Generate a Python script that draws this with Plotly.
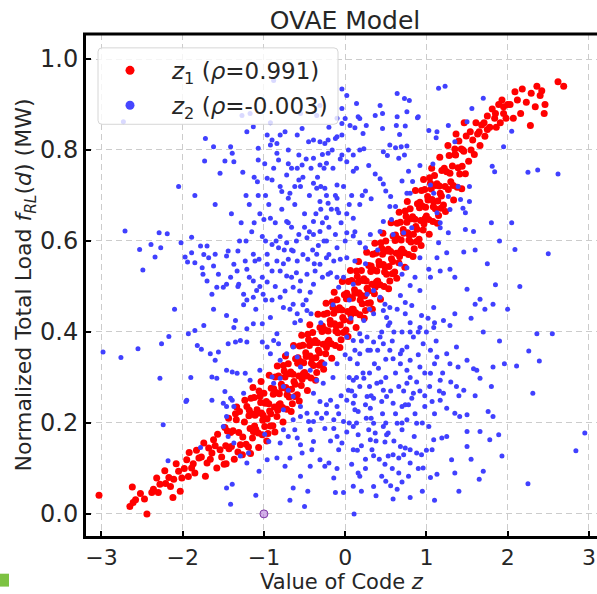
import plotly.graph_objects as go

# ---------------- data ----------------
# z1 : code value vs. normalized total load (red)
z1_pts = [
    (-3.03, 0.041), (-2.65, 0.016), (-2.61, 0.025), (-2.58, 0.031), (-2.47, 0.033), (-2.44, 0.0),
    (-2.62, 0.059), (-2.52, 0.045), (-2.38, 0.047), (-2.36, 0.054), (-2.30, 0.047), (-2.32, 0.079),
    (-2.28, 0.065), (-2.22, 0.095), (-2.21, 0.067), (-2.17, 0.08), (-2.15, 0.06), (-2.12, 0.036),
    (-2.11, 0.076), (-2.08, 0.11), (-2.05, 0.094), (-2.03, 0.050), (-2.01, 0.079), (-1.98, 0.10),
    (-1.95, 0.119), (-1.93, 0.082), (-1.92, 0.135), (-1.89, 0.101), (-1.87, 0.11), (-1.85, 0.090),
    (-1.83, 0.14), (-1.80, 0.123), (-1.77, 0.125), (-1.74, 0.156), (-1.72, 0.083), (-1.70, 0.112),
    (-1.68, 0.145), (-1.66, 0.12), (-1.64, 0.134), (-1.62, 0.163), (-1.60, 0.15), (-1.58, 0.101),
    (-1.57, 0.175), (-1.54, 0.141), (-1.52, 0.125),
    (-1.49, 0.109), (-1.43, 0.143), (-1.47, 0.150), (-1.41, 0.179), (-1.45, 0.182), (-1.48, 0.190),
    (-1.38, 0.183), (-1.32, 0.136), (-1.35, 0.220), (-1.40, 0.148), (-1.34, 0.207), (-1.31, 0.179),
    (-1.26, 0.169), (-1.30, 0.225), (-1.22, 0.153), (-1.24, 0.202), (-1.29, 0.152), (-1.21, 0.236),
    (-1.19, 0.147), (-1.13, 0.181), (-1.17, 0.188), (-1.11, 0.217), (-1.15, 0.220), (-1.18, 0.228), (-1.12, 0.256), (-1.16, 0.254), (-1.14, 0.167),
    (-1.08, 0.221), (-1.02, 0.174), (-1.05, 0.258), (-1.10, 0.186), (-1.04, 0.245), (-1.01, 0.217), (-1.07, 0.178), (-1.06, 0.270), (-1.03, 0.222),
    (-0.96, 0.209), (-1.00, 0.265), (-0.92, 0.193), (-0.94, 0.242), (-0.99, 0.192), (-0.91, 0.276), (-0.97, 0.247), (-0.93, 0.226), (-0.95, 0.177),
    (-0.89, 0.194), (-0.83, 0.228), (-0.87, 0.235), (-0.81, 0.264), (-0.85, 0.267), (-0.88, 0.275), (-0.82, 0.303), (-0.86, 0.301), (-0.84, 0.214),
    (-0.78, 0.277), (-0.72, 0.230), (-0.75, 0.314), (-0.80, 0.242), (-0.74, 0.301), (-0.71, 0.273), (-0.77, 0.234), (-0.76, 0.326), (-0.73, 0.278),
    (-0.66, 0.274), (-0.70, 0.330), (-0.62, 0.258), (-0.64, 0.307), (-0.69, 0.257), (-0.61, 0.341), (-0.67, 0.312), (-0.63, 0.291), (-0.65, 0.242),
    (-0.59, 0.262), (-0.53, 0.296), (-0.57, 0.303), (-0.51, 0.332), (-0.55, 0.335), (-0.58, 0.343), (-0.52, 0.371), (-0.56, 0.369), (-0.54, 0.282),
    (-0.48, 0.346), (-0.42, 0.299), (-0.45, 0.383), (-0.50, 0.311), (-0.44, 0.370), (-0.41, 0.342), (-0.47, 0.303), (-0.46, 0.395), (-0.43, 0.347),
    (-0.36, 0.343), (-0.40, 0.399), (-0.32, 0.327), (-0.34, 0.376), (-0.39, 0.326), (-0.31, 0.410), (-0.37, 0.381), (-0.33, 0.360), (-0.35, 0.311),
    (-0.29, 0.332), (-0.23, 0.366), (-0.27, 0.373), (-0.21, 0.402), (-0.25, 0.405), (-0.28, 0.413), (-0.22, 0.441), (-0.26, 0.439), (-0.24, 0.352),
    (-0.18, 0.417), (-0.12, 0.370), (-0.15, 0.454), (-0.20, 0.382), (-0.14, 0.441), (-0.11, 0.413), (-0.17, 0.374), (-0.16, 0.466), (-0.13, 0.418),
    (-0.06, 0.415), (-0.10, 0.471), (-0.02, 0.399), (-0.04, 0.448), (-0.09, 0.398), (-0.01, 0.482), (-0.07, 0.453), (-0.03, 0.432), (-0.05, 0.383),
    (0.01, 0.404), (0.07, 0.438), (0.03, 0.445), (0.09, 0.474), (0.05, 0.477), (0.02, 0.485), (0.08, 0.513), (0.04, 0.511), (0.06, 0.424),
    (0.12, 0.485), (0.18, 0.438), (0.15, 0.522), (0.10, 0.450), (0.16, 0.509), (0.19, 0.481), (0.13, 0.442), (0.14, 0.534), (0.17, 0.486),
    (0.24, 0.479), (0.20, 0.535), (0.28, 0.463), (0.26, 0.512), (0.21, 0.462), (0.29, 0.546), (0.23, 0.517), (0.27, 0.496), (0.25, 0.447),
    (0.31, 0.464), (0.37, 0.498), (0.33, 0.505), (0.39, 0.534), (0.35, 0.537), (0.32, 0.545), (0.38, 0.573), (0.34, 0.571), (0.36, 0.484),
    (0.42, 0.547), (0.48, 0.500), (0.45, 0.584), (0.40, 0.512), (0.46, 0.571), (0.49, 0.543), (0.43, 0.504), (0.44, 0.596), (0.47, 0.548),
    (0.54, 0.544), (0.50, 0.600), (0.58, 0.528), (0.56, 0.577), (0.51, 0.527), (0.59, 0.611), (0.53, 0.582), (0.57, 0.561), (0.55, 0.512),
    (0.61, 0.532), (0.67, 0.566), (0.63, 0.573), (0.69, 0.602), (0.65, 0.605), (0.62, 0.613), (0.68, 0.641), (0.64, 0.639), (0.66, 0.552),
    (0.72, 0.617), (0.78, 0.570), (0.75, 0.654), (0.70, 0.582), (0.76, 0.641), (0.79, 0.613), (0.73, 0.574), (0.74, 0.666), (0.77, 0.618),
    (0.84, 0.615), (0.80, 0.671), (0.88, 0.599), (0.86, 0.648), (0.81, 0.598), (0.89, 0.682), (0.83, 0.653), (0.87, 0.632), (0.85, 0.583),
    (0.91, 0.604), (0.97, 0.638), (0.93, 0.645), (0.99, 0.674), (0.95, 0.677), (0.92, 0.685), (0.98, 0.713), (0.94, 0.711), (0.96, 0.624),
    (1.02, 0.690), (1.08, 0.643), (1.05, 0.727), (1.00, 0.655), (1.06, 0.714), (1.09, 0.686), (1.03, 0.647), (1.04, 0.739), (1.07, 0.691),
    (1.14, 0.688), (1.10, 0.744), (1.18, 0.672), (1.16, 0.721), (1.11, 0.671), (1.19, 0.755), (1.13, 0.726), (1.17, 0.705), (1.15, 0.656),
    (1.21, 0.679), (1.27, 0.713), (1.23, 0.720), (1.29, 0.749), (1.25, 0.752), (1.22, 0.760), (1.28, 0.788),
    (1.32, 0.765), (1.38, 0.718), (1.35, 0.802), (1.30, 0.730), (1.36, 0.789), (1.39, 0.761), (1.33, 0.722),
    (1.44, 0.764), (1.40, 0.820), (1.48, 0.748), (1.46, 0.797), (1.41, 0.747), (1.49, 0.831), (1.43, 0.802),
    (1.52, 0.775), (1.57, 0.822), (1.54, 0.84), (1.59, 0.79), (1.61, 0.86), (1.66, 0.81), (1.63, 0.835),
    (1.68, 0.855), (1.72, 0.83), (1.75, 0.875), (1.78, 0.85), (1.71, 0.86), (1.81, 0.89), (1.86, 0.85),
    (1.84, 0.87), (1.89, 0.9), (1.91, 0.86), (1.95, 0.895), (1.98, 0.87), (1.93, 0.91), (2.03, 0.9),
    (2.07, 0.87), (2.09, 0.928), (2.12, 0.91), (2.16, 0.88), (2.18, 0.934), (2.23, 0.905), (2.28, 0.854),
    (2.29, 0.925), (2.34, 0.895), (2.36, 0.94), (2.40, 0.92), (2.42, 0.93), (2.46, 0.90), (2.45, 0.88),
    (2.62, 0.95), (2.69, 0.94), (1.55, 0.80), (1.65, 0.84), (1.75, 0.845), (1.85, 0.88), (1.95, 0.88),
    (2.00, 0.9), (1.45, 0.8), (1.35, 0.79),
    # edge / fill points of the dense band
    (-1.465, 0.11), (-1.435, 0.21), (-1.365, 0.12), (-1.335, 0.235), (-1.265, 0.13), (-1.235, 0.25),
    (-1.165, 0.133), (-1.135, 0.278), (-1.185, 0.216), (-1.115, 0.193),
    (-1.065, 0.146), (-1.035, 0.291), (-1.085, 0.229), (-1.015, 0.206),
    (-0.965, 0.16), (-0.935, 0.305), (-0.985, 0.243), (-0.915, 0.22),
    (-0.865, 0.18), (-0.835, 0.325), (-0.885, 0.263), (-0.815, 0.24),
    (-0.765, 0.202), (-0.735, 0.347), (-0.785, 0.285), (-0.715, 0.262),
    (-0.665, 0.225), (-0.635, 0.37), (-0.685, 0.308), (-0.615, 0.285),
    (-0.565, 0.248), (-0.535, 0.393), (-0.585, 0.331), (-0.515, 0.308),
    (-0.465, 0.271), (-0.435, 0.416), (-0.485, 0.354), (-0.415, 0.331),
    (-0.365, 0.294), (-0.335, 0.439), (-0.385, 0.377), (-0.315, 0.354),
    (-0.265, 0.318), (-0.235, 0.463), (-0.285, 0.401), (-0.215, 0.378),
    (-0.165, 0.342), (-0.135, 0.487), (-0.185, 0.425), (-0.115, 0.402),
    (-0.065, 0.366), (-0.035, 0.511), (-0.085, 0.449), (-0.015, 0.426),
    (0.035, 0.39), (0.065, 0.535), (0.015, 0.473), (0.085, 0.45),
    (0.135, 0.41), (0.165, 0.555), (0.115, 0.493), (0.185, 0.47),
    (0.235, 0.43), (0.265, 0.575), (0.215, 0.513), (0.285, 0.49),
    (0.335, 0.45), (0.365, 0.595), (0.315, 0.533), (0.385, 0.51),
    (0.435, 0.472), (0.465, 0.617), (0.415, 0.555), (0.485, 0.532),
    (0.535, 0.495), (0.565, 0.64), (0.515, 0.578), (0.585, 0.555),
    (0.635, 0.518), (0.665, 0.663), (0.615, 0.601), (0.685, 0.578),
    (0.735, 0.542), (0.765, 0.687), (0.715, 0.625), (0.785, 0.602),
    (0.835, 0.566), (0.865, 0.711), (0.815, 0.649), (0.885, 0.626),
    (0.935, 0.59), (0.965, 0.735), (0.915, 0.673), (0.985, 0.65),
    (1.035, 0.615), (1.065, 0.76), (1.015, 0.698), (1.085, 0.675),
    (1.135, 0.639), (1.165, 0.784), (1.115, 0.722), (1.185, 0.699),
    (1.235, 0.665), (1.265, 0.81), (1.335, 0.69), (1.365, 0.835), (1.435, 0.715), (1.465, 0.86),
]

# z2 : code value vs. normalized total load (blue)
z2_pts = [
    (-2.73, 0.862), (-1.72, 0.825), (-1.62, 0.807), (-1.73, 0.776), (-1.41, 0.807), (-1.39, 0.793), (-1.48, 0.776),
    (-1.37, 0.774), (-1.54, 0.749), (-1.26, 0.751), (-1.07, 0.804), (-1.07, 0.778), (-1.21, 0.84), (-1.13, 0.851),
    (-0.96, 0.833), (-0.90, 0.822), (-0.92, 0.811), (-0.80, 0.833), (-0.74, 0.84), (-0.84, 0.814), (-0.82, 0.778),
    (-0.84, 0.793), (-0.96, 0.738), (-0.90, 0.734), (-0.72, 0.745), (-0.78, 0.709), (-0.70, 0.694), (-0.68, 0.705),
    (-1.07, 0.70), (-0.94, 0.68), (-0.59, 0.833), (-0.53, 0.847), (-0.45, 0.818), (-0.39, 0.822), (-0.31, 0.818),
    (-0.25, 0.814), (-0.21, 0.822), (-0.12, 0.825), (-0.10, 0.829), (-0.57, 0.789), (-0.53, 0.767), (-0.59, 0.76),
    (-0.39, 0.782), (-0.31, 0.767), (-0.23, 0.771), (-0.21, 0.793), (-0.57, 0.734), (-0.55, 0.72), (-0.39, 0.727),
    (-0.35, 0.716), (-0.25, 0.716), (-0.23, 0.70), (-0.10, 0.723), (-0.31, 0.687), (-0.21, 0.683), (-0.10, 0.694),
    (-0.08, 0.662), (-0.23, 0.651), (-0.39, 0.643), (-0.72, 0.643), (-1.0, 0.647), (-0.88, 0.953), (-1.27, 0.876),
    (-1.17, 0.88), (-0.31, 0.898), (-0.35, 0.876),
    (-0.04, 0.934), (0.02, 0.92), (0.14, 0.902), (0.16, 0.873), (0.37, 0.876), (0.43, 0.898), (0.64, 0.924),
    (0.73, 0.913), (0.79, 0.909), (0.76, 0.884), (0.64, 0.873), (0.90, 0.873), (1.15, 0.936), (1.23, 0.94),
    (1.70, 0.914), (1.56, 0.891), (-0.04, 0.891), (0.0, 0.869), (-0.04, 0.858), (0.06, 0.854), (0.12, 0.849),
    (-0.04, 0.833), (0.18, 0.869), (0.26, 0.854), (0.22, 0.836), (0.46, 0.88), (0.46, 0.847), (0.63, 0.854),
    (0.74, 0.853), (0.67, 0.834), (0.89, 0.871), (0.55, 0.811), (0.62, 0.805), (0.69, 0.807), (0.76, 0.809),
    (0.47, 0.796), (0.52, 0.788), (0.66, 0.782), (0.73, 0.789), (-0.04, 0.789), (0.02, 0.774), (0.10, 0.789),
    (0.18, 0.80), (0.23, 0.803), (0.10, 0.753), (0.29, 0.766), (0.37, 0.747), (0.43, 0.737), (0.47, 0.725),
    (0.25, 0.71), (0.21, 0.70), (0.32, 0.693), (0.50, 0.71), (0.56, 0.698), (0.62, 0.676), (0.55, 0.676),
    (0.78, 0.753), (0.83, 0.731), (0.70, 0.732), (0.76, 0.705), (0.80, 0.705), (0.92, 0.766), (1.08, 0.769),
    (1.03, 0.843), (1.13, 0.84), (1.27, 0.854), (1.12, 0.827), (1.35, 0.818), (1.50, 0.862), (1.95, 0.807),
    (2.05, 0.841), (1.81, 0.764), (1.84, 0.752), (2.25, 0.751), (2.37, 0.756), (2.62, 0.747), (1.53, 0.72),
    (1.39, 0.72), (1.29, 0.669), (1.27, 0.698), (1.45, 0.672), (1.48, 0.662), (1.42, 0.691), (1.53, 0.687),
    (1.80, 0.64), (2.05, 0.64), (1.05, 0.723), (1.09, 0.705), (0.47, 0.643), (0.57, 0.647), (1.13, 0.662),
    (1.17, 0.64),
    (-2.71, 0.622), (-2.29, 0.618), (-2.19, 0.616), (-2.53, 0.581), (-2.39, 0.592), (-2.27, 0.585), (-2.34, 0.565),
    (-2.49, 0.536), (-2.02, 0.596), (-1.97, 0.565), (-1.94, 0.554), (-1.89, 0.608), (-1.85, 0.552), (-1.76, 0.541),
    (-1.89, 0.574), (-1.78, 0.589), (-1.70, 0.589), (-1.74, 0.57), (-1.68, 0.563), (-1.75, 0.527), (-1.60, 0.571),
    (-1.62, 0.545), (-1.56, 0.527), (-1.46, 0.567), (-1.44, 0.578), (-1.32, 0.578), (-1.37, 0.549), (-1.23, 0.556),
    (-1.33, 0.534), (-1.21, 0.538), (-1.11, 0.556), (-1.13, 0.571), (-1.46, 0.505), (-1.50, 0.498), (-1.41, 0.52),
    (-1.31, 0.505), (-1.70, 0.512), (-1.58, 0.498), (-1.64, 0.483), (-1.25, 0.483), (-1.21, 0.47), (-1.13, 0.476),
    (-1.09, 0.491), (-1.01, 0.483), (-1.13, 0.512), (-1.02, 0.52), (-0.90, 0.534), (-0.96, 0.549), (-0.84, 0.556),
    (-0.80, 0.534), (-0.96, 0.571), (-0.82, 0.585), (-0.90, 0.592), (-0.72, 0.596), (-0.64, 0.578), (-0.70, 0.56),
    (-0.59, 0.556), (-0.57, 0.614), (-0.47, 0.607), (-0.39, 0.614), (-0.31, 0.621), (-0.23, 0.60), (-0.12, 0.614),
    (-0.10, 0.585), (-0.72, 0.523), (-0.64, 0.498), (-0.55, 0.512), (-0.47, 0.527), (-0.39, 0.505), (-0.43, 0.487),
    (-0.35, 0.571), (-0.31, 0.549), (-0.23, 0.563), (-0.14, 0.556), (-0.37, 0.534), (-0.21, 0.527), (-0.10, 0.52),
    (-0.08, 0.498), (-0.80, 0.476), (-0.76, 0.454), (-0.64, 0.461), (-0.59, 0.44), (-0.47, 0.447), (-0.55, 0.425),
    (-0.92, 0.432), (-1.02, 0.418), (-1.13, 0.418), (-1.62, 0.45), (-1.46, 0.436), (-1.35, 0.425), (-1.37, 0.41),
    (-1.21, 0.407), (-1.74, 0.414), (-1.93, 0.396), (-1.85, 0.403), (-1.82, 0.37), (-1.77, 0.362), (-2.17, 0.39),
    (-2.26, 0.374), (-2.55, 0.363), (-2.76, 0.344), (-2.98, 0.356), (-2.28, 0.298), (-1.66, 0.352), (-1.56, 0.356),
    (-1.60, 0.338), (-1.64, 0.301), (-1.58, 0.298), (-1.44, 0.374), (-1.35, 0.378), (-1.29, 0.381), (-1.21, 0.378),
    (-1.46, 0.316), (-1.39, 0.312), (-1.33, 0.309), (-1.23, 0.309), (-1.17, 0.294), (-1.05, 0.316), (-1.48, 0.269),
    (-1.25, 0.265), (-1.39, 0.25), (-1.95, 0.25), (-1.46, 0.236), (-1.02, 0.378), (-0.96, 0.367), (-0.92, 0.352),
    (-0.88, 0.381), (-0.84, 0.396), (-0.82, 0.374), (-0.72, 0.352), (-0.80, 0.338), (-0.64, 0.367), (-0.59, 0.345),
    (-0.55, 0.323), (-0.90, 0.301), (-0.88, 0.287), (-0.80, 0.298), (-0.76, 0.28), (-0.70, 0.272), (-0.64, 0.258),
    (-0.43, 0.316), (-0.35, 0.294), (-0.39, 0.265), (-0.27, 0.287), (-0.18, 0.25), (-0.10, 0.236), (-0.23, 0.221),
    (-0.55, 0.236), (-0.47, 0.221), (-0.39, 0.203), (-0.29, 0.21), (-0.14, 0.207),
    (-1.96, 0.247), (-1.64, 0.25), (-1.50, 0.243), (-1.41, 0.254), (-1.37, 0.236), (-2.24, 0.196), (-2.18, 0.117),
    (-1.78, 0.146), (-1.46, 0.214), (-1.50, 0.192), (-1.44, 0.17), (-1.37, 0.156), (-1.29, 0.127), (-1.19, 0.134),
    (-1.46, 0.057), (-1.39, 0.065), (-1.41, 0.021), (-1.21, 0.112), (-1.10, 0.041), (-1.06, 0.094), (-0.96, 0.119),
    (-0.94, 0.159), (-0.99, 0.175), (-0.84, 0.123), (-0.76, 0.185), (-0.74, 0.105), (-0.68, 0.123), (-0.62, 0.185),
    (-0.64, 0.057), (-0.68, 0.03), (-0.55, 0.083), (-0.50, 0.016), (-0.46, 0.05), (-0.43, 0.105), (-0.80, 0.156),
    (-0.70, 0.17), (-0.59, 0.167), (-0.55, 0.152), (-0.53, 0.134), (-0.41, 0.141), (-0.39, 0.159), (-0.31, 0.119),
    (-0.25, 0.105), (-0.20, 0.112), (-0.14, 0.079), (-0.76, 0.229), (-0.64, 0.207), (-0.55, 0.214), (-0.45, 0.203),
    (-0.43, 0.185), (-0.35, 0.221), (-0.31, 0.247), (-0.23, 0.24), (-0.14, 0.188), (-0.10, 0.17), (-0.25, 0.188),
    (-0.08, 0.141), (-0.12, 0.047),
    (0.02, 0.25), (0.10, 0.243), (0.16, 0.225), (0.25, 0.24), (0.35, 0.254), (0.45, 0.247), (0.51, 0.258),
    (0.59, 0.243), (0.70, 0.236), (0.78, 0.24), (0.82, 0.254), (-0.02, 0.203), (0.10, 0.192), (0.16, 0.174),
    (0.29, 0.185), (0.35, 0.199), (0.37, 0.178), (0.47, 0.192), (0.53, 0.178), (0.64, 0.199), (0.70, 0.185),
    (0.76, 0.207), (0.88, 0.199), (-0.04, 0.156), (0.08, 0.109), (0.10, 0.141), (0.16, 0.09), (0.18, 0.083),
    (0.10, 0.061), (-0.02, 0.047), (0.31, 0.163), (0.33, 0.141), (0.35, 0.128), (0.51, 0.174), (0.49, 0.158),
    (0.53, 0.127), (0.59, 0.13), (0.66, 0.123), (0.68, 0.148), (0.74, 0.145), (0.80, 0.141), (0.88, 0.134),
    (0.94, 0.13), (0.96, 0.101), (0.80, 0.112), (0.78, 0.083), (0.66, 0.09), (0.45, 0.083), (0.50, 0.072),
    (0.56, 0.062), (0.64, 0.054), (0.59, 0.033), (0.80, 0.036), (0.49, 0.109), (0.11, 0.0), (0.98, 0.236),
    (1.07, 0.247), (1.17, 0.25), (1.25, 0.232), (1.35, 0.221), (1.41, 0.214), (1.50, 0.218), (1.76, 0.225),
    (1.82, 0.214), (1.66, 0.181), (1.50, 0.181), (1.50, 0.148), (1.78, 0.163), (1.89, 0.174), (1.93, 0.127),
    (1.03, 0.192), (1.09, 0.163), (1.07, 0.141), (1.13, 0.087), (1.19, 0.167), (1.31, 0.119), (1.35, 0.09),
    (1.65, 0.076), (1.70, 0.094), (2.25, 0.066), (2.84, 0.139), (2.95, 0.178),
    (0.02, 0.618), (0.10, 0.611), (0.18, 0.596), (0.25, 0.585), (0.31, 0.614), (0.43, 0.621), (0.59, 0.614),
    (0.72, 0.618), (0.82, 0.629), (1.17, 0.629), (1.27, 0.618), (1.48, 0.625), (1.58, 0.621), (0.02, 0.563),
    (0.12, 0.556), (-0.02, 0.52), (0.10, 0.505), (0.68, 0.549), (0.76, 0.541), (0.70, 0.527), (0.86, 0.52),
    (0.92, 0.563), (1.03, 0.538), (1.05, 0.52), (1.15, 0.596), (1.13, 0.563), (1.25, 0.574), (1.17, 0.534),
    (1.29, 0.538), (1.35, 0.52), (1.46, 0.576), (0.80, 0.502), (0.92, 0.491), (0.68, 0.48), (0.74, 0.465),
    (0.82, 0.458), (1.50, 0.494), (1.60, 0.461), (1.66, 0.472), (1.72, 0.45), (1.82, 0.461), (1.85, 0.504),
    (0.27, 0.483), (0.35, 0.491), (0.43, 0.476), (0.49, 0.461), (0.47, 0.447), (0.55, 0.454), (0.35, 0.44),
    (0.23, 0.425), (0.51, 0.432), (0.53, 0.414), (0.74, 0.44), (0.94, 0.436), (1.09, 0.454), (0.92, 0.41),
    (1.09, 0.41), (1.21, 0.425), (1.29, 0.414), (1.35, 0.44), (0.02, 0.389), (0.10, 0.381), (0.18, 0.396),
    (0.27, 0.389), (0.35, 0.378), (0.43, 0.389), (0.31, 0.36), (0.18, 0.352), (0.06, 0.341), (0.47, 0.374),
    (0.55, 0.36), (0.59, 0.341), (0.68, 0.352), (0.76, 0.367), (0.80, 0.338), (0.84, 0.389), (0.96, 0.374),
    (1.05, 0.36), (1.13, 0.345), (1.25, 0.352), (1.37, 0.367), (1.50, 0.338), (1.58, 0.319), (1.29, 0.33),
    (1.39, 0.323), (0.92, 0.323), (0.76, 0.316), (0.10, 0.294), (0.23, 0.298), (0.04, 0.272), (0.18, 0.28),
    (0.27, 0.258), (0.39, 0.287), (0.47, 0.272), (0.76, 0.287), (0.84, 0.265), (0.31, 0.232), (0.12, 0.229),
    (1.05, 0.309), (1.17, 0.294), (1.21, 0.265), (1.37, 0.28), (1.46, 0.272), (1.62, 0.316), (1.66, 0.298),
    (1.82, 0.323), (2.09, 0.581), (2.50, 0.572), (2.36, 0.396), (2.55, 0.396), (2.26, 0.358), (2.39, 0.336),
    (2.11, 0.325), (1.96, 0.33), (2.31, 0.265),
    (-1.15, 0.62), (-1.05, 0.66), (-0.98, 0.60), (-0.86, 0.64), (-0.78, 0.67), (-0.66, 0.63), (-0.62, 0.68),
    (-0.5, 0.66), (-0.44, 0.70), (-0.36, 0.66), (-0.28, 0.64), (-0.17, 0.67), (-0.05, 0.64), (0.05, 0.68),
    (-1.22, 0.70), (-1.12, 0.74), (-0.99, 0.77), (-0.66, 0.76), (-0.48, 0.78), (-0.28, 0.79), (-0.15, 0.76),
    (-0.02, 0.72), (0.08, 0.70), (-0.75, 0.58), (-0.52, 0.57), (-0.33, 0.59), (-0.2, 0.57), (-1.05, 0.5),
    (-0.9, 0.47), (-0.68, 0.45), (-0.48, 0.47), (-0.6, 0.53), (-0.85, 0.6), (-1.3, 0.6), (-1.4, 0.66),
    (-1.6, 0.68), (-1.85, 0.7), (-2.05, 0.72), (-1.25, 0.46), (-0.3, 0.72), (-0.12, 0.7), (0.12, 0.62),
    (0.02, 0.66), (-0.7, 0.8), (-0.92, 0.86), (-0.55, 0.88), (-0.1, 0.87), (-0.2, 0.85),
    (0.05, 0.3), (0.12, 0.26), (0.22, 0.31), (0.3, 0.28), (0.41, 0.32), (0.5, 0.3), (0.62, 0.31),
    (0.72, 0.27), (0.88, 0.29), (0.98, 0.26), (1.1, 0.22), (0.15, 0.14), (0.25, 0.1), (0.42, 0.12),
    (0.6, 0.16), (0.7, 0.2), (0.85, 0.17), (0.95, 0.2), (1.0, 0.14), (0.05, 0.2), (-0.05, 0.26),
    (0.32, 0.21), (0.46, 0.22), (0.66, 0.28), (0.58, 0.38), (0.7, 0.4), (0.8, 0.42), (0.64, 0.45),
    (0.9, 0.4), (1.02, 0.43), (1.12, 0.38), (1.2, 0.31), (0.28, 0.36), (0.36, 0.33), (0.15, 0.33),
    (-0.15, 0.3), (-0.25, 0.33), (0.2, 0.05), (0.38, 0.04), (0.7, 0.07), (0.95, 0.05), (1.1, 0.03),
    (1.4, 0.05), (1.55, 0.12), (1.25, 0.17), (1.4, 0.26), (1.3, 0.29), (1.6, 0.26), (1.8, 0.28),
    (1.9, 0.38), (1.7, 0.4), (1.55, 0.43), (1.75, 0.55), (1.6, 0.58), (1.9, 0.6), (2.0, 0.45),
    (2.15, 0.5), (-2.1, 0.45), (-1.9, 0.3), (0.05, 0.47), (-0.15, 0.46), (0.25, 0.55), (0.3, 0.45),
    (-0.3, 0.42), (0.12, 0.36), (-0.1, 0.33), (0.4, 0.58),
    # denser upper-left cloud
    (-1.28, 0.64), (-1.18, 0.68), (-1.08, 0.73), (-0.98, 0.70), (-0.88, 0.76), (-0.8, 0.72), (-0.7, 0.77),
    (-0.62, 0.72), (-0.52, 0.74), (-0.42, 0.76), (-0.34, 0.74), (-0.26, 0.76), (-0.16, 0.80), (-0.06, 0.78),
    (0.04, 0.80), (0.14, 0.76), (-1.22, 0.6), (-1.12, 0.64), (-1.02, 0.61), (-0.92, 0.65), (-0.8, 0.61),
    (-0.7, 0.64), (-0.6, 0.60), (-0.5, 0.63), (-0.4, 0.58), (-0.3, 0.67), (-0.2, 0.63), (-0.1, 0.67),
    (0.0, 0.6), (0.1, 0.65), (0.18, 0.68), (-1.32, 0.5), (-1.18, 0.52), (-1.06, 0.56), (-0.96, 0.51),
    (-0.86, 0.5), (-0.76, 0.55), (-0.66, 0.52), (-0.56, 0.49), (-0.46, 0.56), (-0.38, 0.55), (-0.28, 0.52),
    (-0.18, 0.53), (-0.06, 0.56), (-0.66, 0.58), (-0.44, 0.62), (-0.26, 0.6), (-1.1, 0.45), (-0.98, 0.47),
    (-0.74, 0.49), (-0.62, 0.42), (-0.52, 0.46), (-0.42, 0.44),
    # denser lower-right cloud
    (-0.18, 0.16), (-0.08, 0.22), (0.02, 0.18), (0.08, 0.27), (0.14, 0.2), (0.2, 0.15), (0.26, 0.21),
    (0.32, 0.26), (0.38, 0.16), (0.44, 0.29), (0.5, 0.2), (0.56, 0.27), (0.62, 0.22), (0.68, 0.33),
    (0.74, 0.24), (0.8, 0.3), (0.86, 0.22), (0.92, 0.27), (0.98, 0.31), (1.04, 0.28), (1.1, 0.33),
    (1.16, 0.27), (0.2, 0.38), (0.3, 0.31), (0.4, 0.36), (0.5, 0.34), (0.6, 0.4), (0.7, 0.36),
    (0.8, 0.4), (0.9, 0.35), (1.0, 0.4), (1.1, 0.42), (0.45, 0.4), (0.55, 0.42), (0.25, 0.12),
    (0.58, 0.1), (0.72, 0.13), (0.9, 0.1), (1.05, 0.08), (0.35, 0.06), (-0.1, 0.1), (0.0, 0.35),
    (0.07, 0.43), (0.14, 0.3),
]

# a single highlighted point
extra_x = [-1.0]
extra_y = [0.0]

z1_label = "<i>z</i><sub>1</sub> (<i>ρ</i>=0.991)"
z2_label = "<i>z</i><sub>2</sub> (<i>ρ</i>=-0.003)"
title_text = "OVAE Model"
x_title = "Value of Code <i>z</i>"
y_title = "Normalized Total Load <i>f</i><sub><i>RL</i></sub>(<i>d</i>) (MW)"
x_tickvals = [-3, -2, -1, 0, 1, 2, 3]
x_ticktext = ["\u22123", "\u22122", "\u22121", "0", "1", "2", "3"]
y_tickvals = [0.0, 0.2, 0.4, 0.6, 0.8, 1.0]
y_ticktext = ["0.0", "0.2", "0.4", "0.6", "0.8", "1.0"]

# ---------------- layout geometry ----------------
W, H = 597, 594
L, R, T, B = 86, 0, 34, 54
PW, PH = W - L - R, H - T - B


def px_x(px):
    return (px - L) / PW


def px_y(py):
    return (H - B - py) / PH


FONT = "DejaVu Sans"
TXT = "#262626"

z1x = [p[0] for p in z1_pts]
z1y = [p[1] for p in z1_pts]
z2x = [p[0] for p in z2_pts]
z2y = [p[1] for p in z2_pts]

fig = go.Figure()
fig.add_trace(go.Scatter(x=z1x, y=z1y, mode="markers", showlegend=False, hoverinfo="skip",
                         marker=dict(color="#ff0000", size=7, line=dict(width=0))))
fig.add_trace(go.Scatter(x=z2x, y=z2y, mode="markers", showlegend=False, hoverinfo="skip",
                         marker=dict(color="#4040ff", size=5, line=dict(width=0))))
fig.add_trace(go.Scatter(x=extra_x, y=extra_y, mode="markers", showlegend=False, hoverinfo="skip",
                         marker=dict(color="rgba(175,110,215,0.55)", size=8,
                                     line=dict(color="rgb(125,55,165)", width=1))))
# legend entries (larger glyphs, as in the reference legend)
fig.add_trace(go.Scatter(x=[None], y=[None], mode="markers", name=z1_label, legendgroup="a",
                         marker=dict(color="#ff0000", size=9)))
fig.add_trace(go.Scatter(x=[None], y=[None], mode="markers", name=z2_label, legendgroup="b",
                         marker=dict(color="#4646ff", size=9)))

# legend frame (rounded, semi-transparent white)
bx0, bx1, by0, by1 = px_x(98), px_x(338), px_y(125), px_y(48)
rx, ry = 4 / PW, 4 / PH
legend_path = (f"M {bx0+rx},{by1} L {bx1-rx},{by1} Q {bx1},{by1} {bx1},{by1-ry} "
               f"L {bx1},{by0+ry} Q {bx1},{by0} {bx1-rx},{by0} L {bx0+rx},{by0} "
               f"Q {bx0},{by0} {bx0},{by0+ry} L {bx0},{by1-ry} Q {bx0},{by1} {bx0+rx},{by1} Z")

shapes = [
    dict(type="path", xref="paper", yref="paper", path=legend_path, layer="above",
         fillcolor="rgba(255,255,255,0.8)", line=dict(color="#d6d6d6", width=1)),
    # top spine
    dict(type="line", xref="paper", yref="paper", x0=px_x(83), x1=1.0, y0=1.0, y1=1.0,
         line=dict(color="black", width=3), layer="above"),
    # small green mark at bottom-left corner of the image
    dict(type="rect", xref="paper", yref="paper", x0=px_x(0), x1=px_x(9), y0=px_y(591), y1=px_y(578),
         fillcolor="#7dc242", line=dict(width=0), layer="above"),
]

axis_common = dict(
    ticks="inside", ticklen=5, tickwidth=1.5, tickcolor="black",
    showline=True, linewidth=3, linecolor="black",
    showgrid=True, gridcolor="#cccccc", gridwidth=1.3, griddash="6px,4px",
    zeroline=False,
)

fig.update_layout(
    width=W, height=H,
    margin=dict(l=L, r=R, t=T, b=B, pad=0),
    paper_bgcolor="white", plot_bgcolor="white",
    font=dict(family=FONT, color=TXT),
    title=dict(text=title_text, x=345 / W, xref="container", xanchor="center",
               y=1 - 20 / H, yref="container", yanchor="middle",
               font=dict(family=FONT, size=25, color=TXT)),
    xaxis=dict(range=[-3.19, 3.10], tickvals=x_tickvals, ticktext=x_ticktext,
               tickfont=dict(family=FONT, size=22, color=TXT),
               title=dict(text=x_title, font=dict(family=FONT, size=21, color=TXT), standoff=9),
               **axis_common),
    yaxis=dict(range=[-0.0486, 1.055], tickvals=y_tickvals, ticktext=y_ticktext,
               tickfont=dict(family=FONT, size=24, color=TXT),
               title=dict(text=y_title, font=dict(family=FONT, size=22, color=TXT), standoff=1),
               **axis_common),
    legend=dict(x=px_x(88), y=px_y(49), xanchor="left", yanchor="top",
                bgcolor="rgba(0,0,0,0)", borderwidth=0, itemwidth=74,
                font=dict(family=FONT, size=23, color=TXT), tracegroupgap=2,
                traceorder="grouped"),
    shapes=shapes,
    hovermode=False,
)

fig.write_html("out.html")
